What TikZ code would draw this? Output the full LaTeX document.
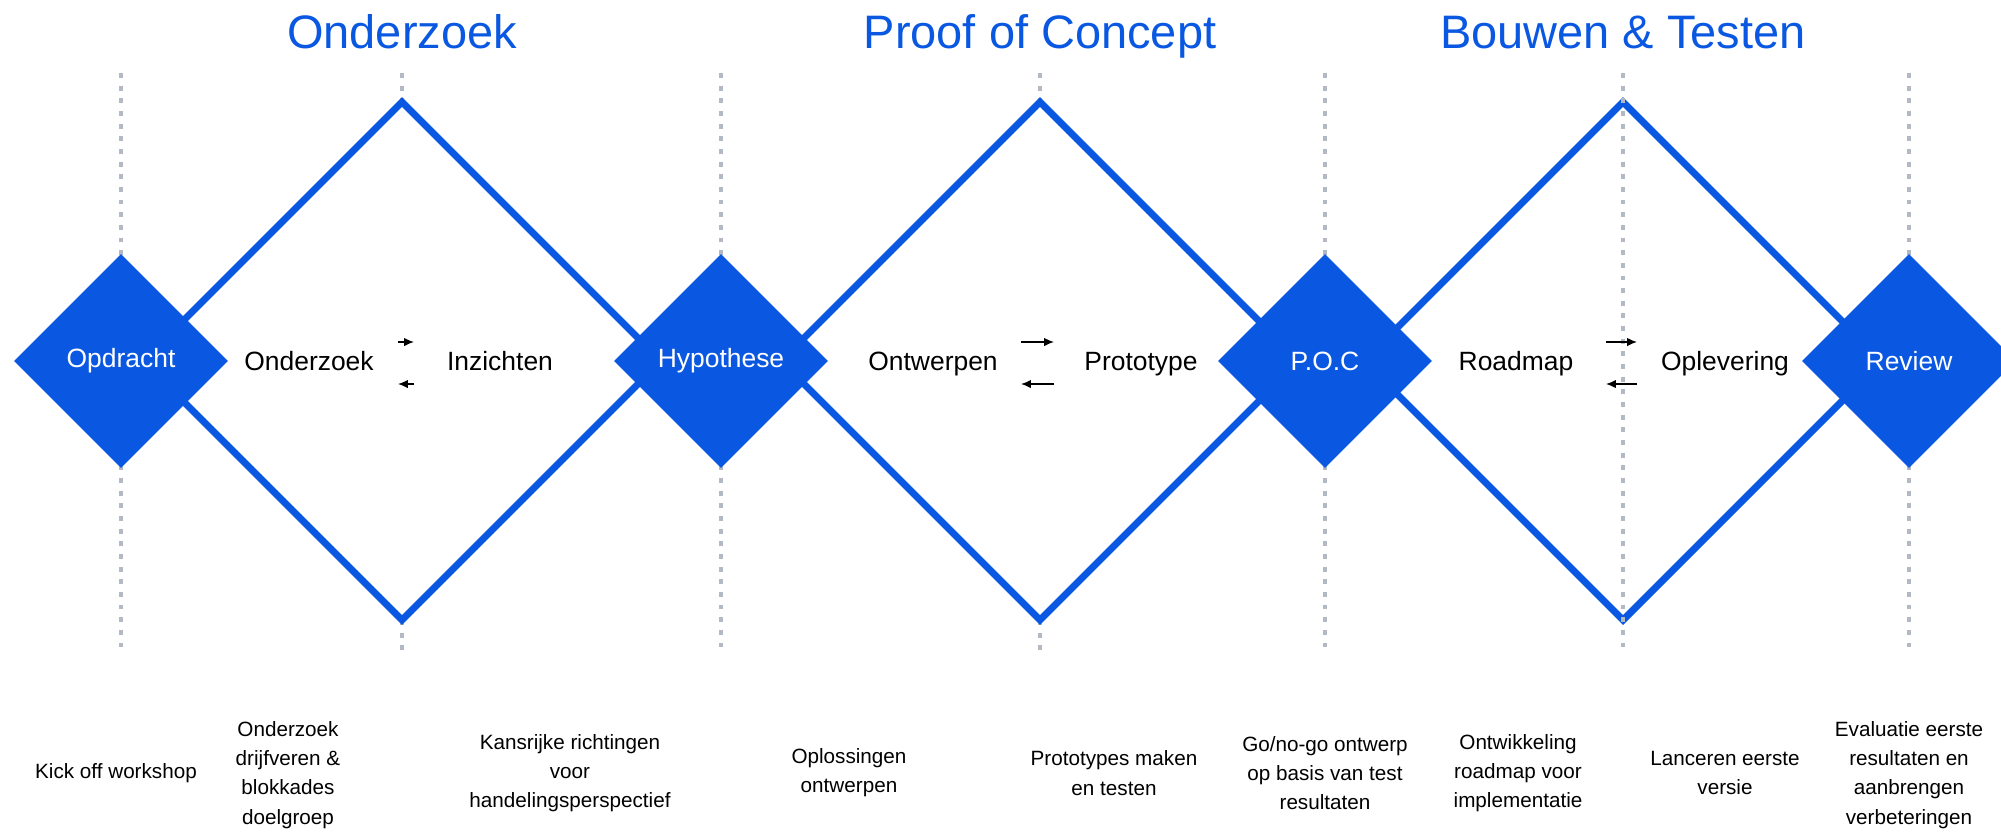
\documentclass[tikz,border=0pt]{standalone}
\usepackage{fontspec}
\setmainfont{Liberation Sans}
\usetikzlibrary{shapes.geometric,arrows.meta}
\definecolor{procesblauw}{HTML}{0A58E2}
\definecolor{lijngrijs}{HTML}{B3B9C3}

\begin{document}
\begin{tikzpicture}[x=0.025cm,y=-0.025cm,
  fase/.style={text=procesblauw,anchor=base,font=\fontsize{33.4}{40}\selectfont},
  mijlpaal/.style={diamond,fill=procesblauw,text=white,minimum width=5.35cm,minimum height=5.35cm,inner sep=0pt,font=\fontsize{18.8}{23}\selectfont},
  stap/.style={anchor=base,font=\fontsize{18.8}{23}\selectfont},
  uitleg/.style={align=center,font=\fontsize{14.7}{20.8}\selectfont},
  ruit/.style={draw=procesblauw,line width=5pt,line join=miter},
  raster/.style={draw=lijngrijs,line width=3pt,dash pattern=on 3.5pt off 5.5pt},
  pijl/.style={-{Latex[length=7pt,width=6pt]},line width=1pt}]
  \useasboundingbox (0,0) rectangle (2001,831);
  \foreach \x in {121,721,1325,1909}
    \draw[raster] (\x,73)--(\x,653);
  \foreach \x in {402,1040}
    \draw[raster] (\x,73)--(\x,102) (\x,620)--(\x,653);
  \foreach \x in {402,1040,1623}
    \draw[ruit] (\x,102)--(\x+259,361)--(\x,620)--(\x-259,361)--cycle;
  \draw[raster] (1623,73)--(1623,653);

  \node[fase] (onderzoekfase) at (402,48) {Onderzoek};
  \node[fase] (pocfase) at (1040,48) {Proof of Concept};
  \node[fase] (bouwfase) at (1623,48) {Bouwen \& Testen};

  \node[mijlpaal] (opdracht) at (121,361) {Opdracht};
  \node[mijlpaal] (hypothese) at (721,361) {Hypothese};
  \node[mijlpaal] (poc) at (1325,361) {P.O.C};
  \node[mijlpaal] (review) at (1909,361) {Review};

  \node[stap] (onderzoek) at (309,370) {Onderzoek};
  \node[stap] (inzichten) at (500,370) {Inzichten};
  \node[stap] (ontwerpen) at (933,370) {Ontwerpen};
  \node[stap] (prototype) at (1141,370) {Prototype};
  \node[stap] (roadmap) at (1516,370) {Roadmap};
  \node[stap] (oplevering) at (1725,370) {Oplevering};

  \foreach \a/\b/\n in {398/414/1,1021/1054/2,1606/1637/3}{
    \coordinate (heen\n a) at (\a,342);
    \coordinate (heen\n b) at (\b,342);
    \coordinate (terug\n a) at (\b,384);
    \coordinate (terug\n b) at (\a,384);
    \draw[pijl] (heen\n a)--(heen\n b);
    \draw[pijl] (terug\n a)--(terug\n b);
  }

  \node[uitleg] (kickoff) at (116,773) {Kick off workshop};
  \node[uitleg] (drijfveren) at (288,775) {Onderzoek\\drijfveren \&\\blokkades\\doelgroep};
  \node[uitleg] (richtingen) at (570,773) {Kansrijke richtingen\\voor\\handelingsperspectief};
  \node[uitleg] (oplossingen) at (849,773) {Oplossingen\\ontwerpen};
  \node[uitleg] (prototypes) at (1114,773) {Prototypes maken\\en testen};
  \node[uitleg] (gonogo) at (1325,773) {Go/no-go ontwerp\\op basis van test\\resultaten};
  \node[uitleg] (ontwikkeling) at (1518,773) {Ontwikkeling\\roadmap voor\\implementatie};
  \node[uitleg] (lanceren) at (1725,773) {Lanceren eerste\\versie};
  \node[uitleg] (evaluatie) at (1909,775) {Evaluatie eerste\\resultaten en\\aanbrengen\\verbeteringen};
\end{tikzpicture}
\end{document}
